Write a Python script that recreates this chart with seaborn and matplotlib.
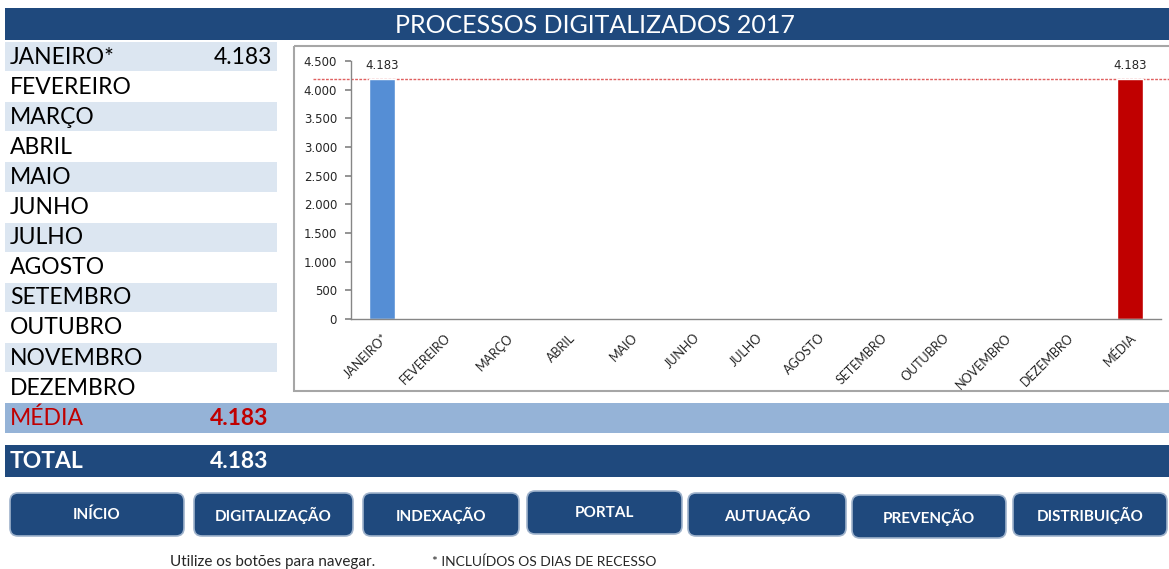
import matplotlib
matplotlib.use("Agg")
import numpy as np
import pandas as pd
import seaborn as sns
import matplotlib.pyplot as plt
from matplotlib.patches import Rectangle, FancyBboxPatch

# dados
meses = ["JANEIRO*", "FEVEREIRO", "MARÇO", "ABRIL", "MAIO", "JUNHO", "JULHO",
         "AGOSTO", "SETEMBRO", "OUTUBRO", "NOVEMBRO", "DEZEMBRO"]
valores = [4183, None, None, None, None, None, None, None, None, None, None, None]
media = 4183
total = 4183
titulo = "PROCESSOS DIGITALIZADOS 2017"
botoes = ["INÍCIO", "DIGITALIZAÇÃO", "INDEXAÇÃO", "PORTAL", "AUTUAÇÃO", "PREVENÇÃO", "DISTRIBUIÇÃO"]
rodape = ["Utilize os botões para navegar.", "* INCLUÍDOS OS DIAS DE RECESSO"]
y_ticks = list(range(0, 4501, 500))

# cores
AZUL_ESCURO = "#1F497D"
AZUL_CLARO = "#DCE6F1"
AZUL_MEDIA = "#95B3D7"
VERMELHO = "#C00000"
cores = {"JANEIRO*": "#558ED5", "MÉDIA": VERMELHO}


def fmt(v):
    return f"{v:,.0f}".replace(",", ".")


sns.set_theme(style="white")
plt.rcParams["font.family"] = ["Lato", "DejaVu Sans"]

W, H = 1169, 569
fig = plt.figure(figsize=(W / 100, H / 100), dpi=100)

# fundo em coordenadas de pixel
bg = fig.add_axes([0, 0, 1, 1])
bg.set_xlim(0, W)
bg.set_ylim(H, 0)
bg.axis("off")

# faixa de titulo
bg.add_patch(Rectangle((5, 8), W - 5, 32, color=AZUL_ESCURO, lw=0))
bg.text(595, 25, titulo, color="white", fontsize=18, ha="center", va="center")

# tabela de meses
row_h = 30.1
fs_tab = 16.5
for i, (mes, v) in enumerate(zip(meses, valores)):
    top = 42 + row_h * i
    if i % 2 == 0:
        bg.add_patch(Rectangle((5, top), 272, row_h - 1, color=AZUL_CLARO, lw=0))
    yc = top + row_h / 2
    bg.text(10, yc, mes, fontsize=fs_tab, color="black", va="center")
    if v is not None:
        bg.text(272, yc, fmt(v), fontsize=fs_tab, color="black", va="center", ha="right")

# linha media
bg.add_patch(Rectangle((5, 403), W - 5, 30, color=AZUL_MEDIA, lw=0))
bg.text(10, 418, "MÉDIA", fontsize=fs_tab, color=VERMELHO, va="center")
bg.text(210, 418, fmt(media), fontsize=fs_tab, color=VERMELHO, va="center", fontweight="bold")

# linha total
bg.add_patch(Rectangle((5, 445), W - 5, 32, color=AZUL_ESCURO, lw=0))
bg.text(10, 461, "TOTAL", fontsize=fs_tab, color="white", va="center", fontweight="bold")
bg.text(210, 461, fmt(total), fontsize=fs_tab, color="white", va="center", fontweight="bold")

# moldura do grafico
bg.add_patch(Rectangle((294, 46), 890, 345, fill=False, ec="#A6A6A6", lw=1.5))

# botoes
bx = [(10, 184, 493), (194, 353, 493), (363, 519, 493), (527, 682, 491),
      (688, 846, 493), (852, 1006, 495), (1013, 1167, 493)]
for nome, (x0, x1, y0) in zip(botoes, bx):
    bg.add_patch(FancyBboxPatch((x0, y0), x1 - x0, 43,
                                boxstyle="round,pad=0,rounding_size=8",
                                fc=AZUL_ESCURO, ec="#9FB3CC", lw=1.2))
    bg.text((x0 + x1) / 2, y0 + 22, nome, color="white", fontsize=11,
            fontweight="bold", ha="center", va="center")

# rodape
bg.text(170, 562, rodape[0], fontsize=11, color="#262626", va="center")
bg.text(432, 562, rodape[1], fontsize=10, color="#262626", va="center")

# grafico de barras
categorias = meses + ["MÉDIA"]
df = pd.DataFrame({"categoria": categorias, "valor": valores + [media]}).dropna()

ax = fig.add_axes([351 / W, 1 - 319 / H, 810 / W, 258 / H])
ax.set_facecolor("none")
sns.barplot(data=df, x="categoria", y="valor", hue="categoria", order=categorias,
            palette=cores, width=0.42, saturation=1, legend=False, ax=ax)
ax.set_xlim(-0.5, len(categorias) - 0.5)
ax.set_ylim(0, 4500)
ax.set_xlabel("")
ax.set_ylabel("")

for c in ax.containers:
    ax.bar_label(c, labels=[fmt(b.get_height()) for b in c], padding=5,
                 fontsize=8.5, family="DejaVu Sans", color="#262626")

ax.axhline(media, xmin=-0.047, xmax=1.02, clip_on=False, color="#E06060",
           lw=1, ls=(0, (2, 1)), zorder=0)

ax.set_yticks(y_ticks)
ax.set_yticklabels([fmt(t) for t in y_ticks], fontsize=8.5, family="DejaVu Sans", color="#262626")
ax.set_xticks(range(len(categorias)))
ax.set_xticklabels(categorias, rotation=45, ha="right", rotation_mode="anchor",
                   fontsize=9, color="#262626")
ax.set_xticks(np.arange(-0.5, len(categorias)), minor=True)
ax.tick_params(axis="x", which="major", length=0, pad=9)
ax.tick_params(axis="x", which="minor", length=5, color="#868686", direction="out")
ax.tick_params(axis="y", length=4, color="#868686", direction="out", left=True, pad=6)

sns.despine(ax=ax)
for s in ["left", "bottom"]:
    ax.spines[s].set_color("#868686")
    ax.spines[s].set_linewidth(1)

fig.savefig("out.png", dpi=100)
